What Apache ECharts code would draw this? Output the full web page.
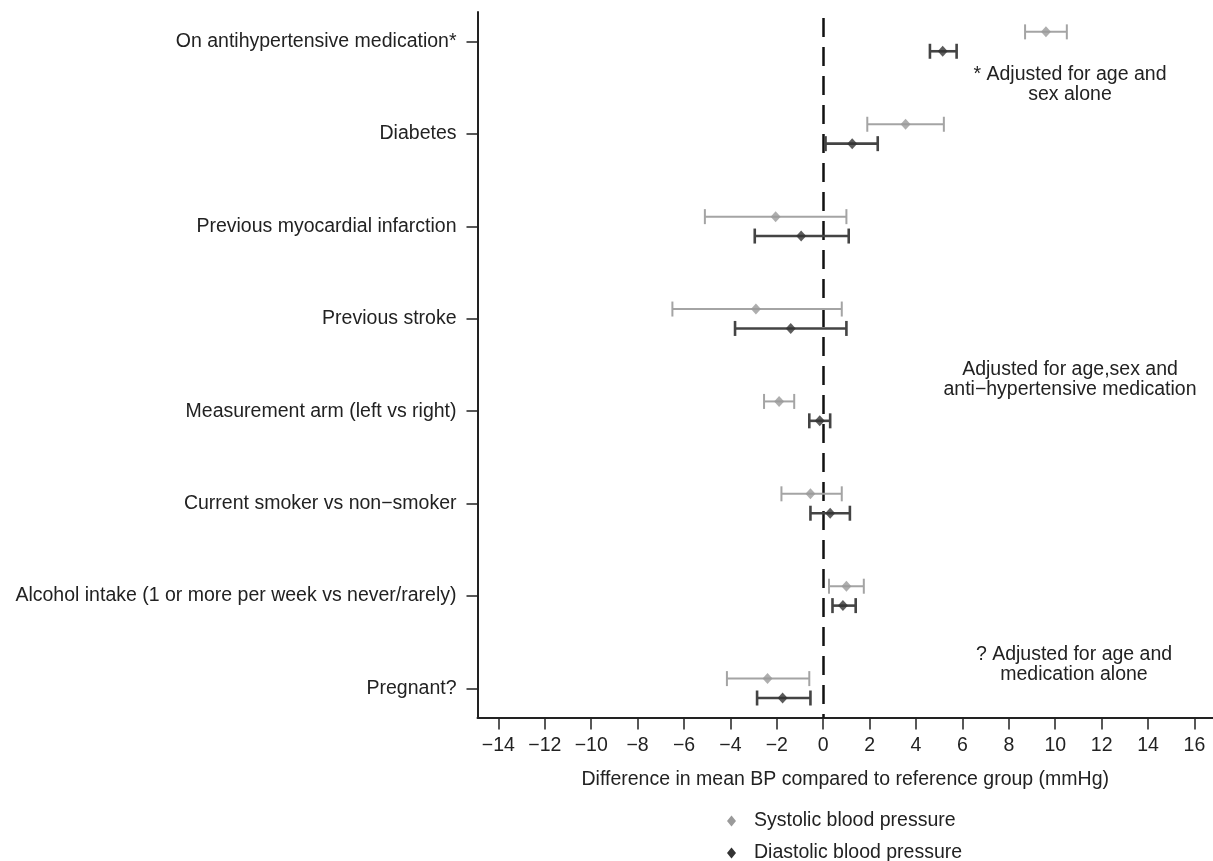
<!DOCTYPE html>
<html>
<head>
<meta charset="utf-8">
<script src="https://cdn.jsdelivr.net/npm/echarts@6/dist/echarts.min.js"></script>
<style>
html,body{margin:0;padding:0;background:#fff;}
#chart{width:1213px;height:861px;}
</style>
</head>
<body>
<div id="chart"></div>
<script>
const categories = [
  'On antihypertensive medication*',
  'Diabetes',
  'Previous myocardial infarction',
  'Previous stroke',
  'Measurement arm (left vs right)',
  'Current smoker vs non\u2212smoker',
  'Alcohol intake (1 or more per week vs never/rarely)',
  'Pregnant?'
];
const sysMean = [9.6, 3.55, -2.05, -2.9, -1.9, -0.55, 1.0, -2.4];
const sysLow  = [8.7, 1.9, -5.1, -6.5, -2.55, -1.8, 0.25, -4.15];
const sysHigh = [10.5, 5.2, 1.0, 0.8, -1.25, 0.8, 1.75, -0.6];
const diaMean = [5.15, 1.25, -0.95, -1.4, -0.15, 0.3, 0.85, -1.75];
const diaLow  = [4.6, 0.1, -2.95, -3.8, -0.6, -0.55, 0.4, -2.85];
const diaHigh = [5.75, 2.35, 1.1, 1.0, 0.3, 1.15, 1.4, -0.55];
const xTicks = [-14, -12, -10, -8, -6, -4, -2, 0, 2, 4, 6, 8, 10, 12, 14, 16];
const seriesNames = ['Systolic blood pressure', 'Diastolic blood pressure'];
const notes = [
  '* Adjusted for age and\nsex alone',
  'Adjusted for age,sex and\nanti\u2212hypertensive medication',
  '? Adjusted for age and\nmedication alone'
];

const FONT = '"Liberation Sans", Arial, Helvetica, sans-serif';
const FS = 19.5;
const TXT = '#222';
const SYS_C = '#9a9a9a', SYS_L = '#a4a4a4';
const DIA_C = '#333333', DIA_L = '#444444';
const OFF = 0.105;
const Y_MIN = -0.32, Y_MAX = 7.316;

const idx = categories.map((_, i) => i);
const sysPts = sysMean.map((v, i) => [v, i - OFF]);
const diaPts = diaMean.map((v, i) => [v, i + OFF]);
const sysBars = idx.map(i => [i - OFF, sysLow[i], sysHigh[i]]);
const diaBars = idx.map(i => [i + OFF, diaLow[i], diaHigh[i]]);

function errRender(color, width) {
  return function (params, api) {
    const lo = api.coord([api.value(1), api.value(0)]);
    const hi = api.coord([api.value(2), api.value(0)]);
    const h = 7.5;
    const st = { stroke: color, lineWidth: width };
    return {
      type: 'group',
      children: [
        { type: 'line', shape: { x1: lo[0], y1: lo[1], x2: hi[0], y2: hi[1] }, style: st },
        { type: 'line', shape: { x1: lo[0], y1: lo[1] - h, x2: lo[0], y2: lo[1] + h }, style: st },
        { type: 'line', shape: { x1: hi[0], y1: hi[1] - h, x2: hi[0], y2: hi[1] + h }, style: st }
      ]
    };
  };
}

const fmtNum = v => (v < 0 ? '\u2212' + Math.abs(v) : String(v));

const chart = echarts.init(document.getElementById('chart'), null, { renderer: 'canvas' });
chart.setOption({
  animation: false,
  textStyle: { fontFamily: FONT },
  grid: { left: 477.5, right: 0, top: 12, bottom: 143.5, containLabel: false },
  xAxis: {
    type: 'value',
    min: -14.9,
    max: 16.8,
    axisLine: { show: true, onZero: false, lineStyle: { color: TXT, width: 2 } },
    axisTick: { show: true, customValues: xTicks, length: 12, lineStyle: { color: TXT, width: 1.5 } },
    axisLabel: { customValues: xTicks, formatter: fmtNum, fontSize: FS, color: TXT, margin: 18, fontFamily: FONT },
    splitLine: { show: false },
    name: 'Difference in mean BP compared to reference group (mmHg)',
    nameLocation: 'middle',
    nameGap: 52,
    nameTextStyle: { fontSize: FS, color: TXT, fontFamily: FONT }
  },
  yAxis: {
    type: 'value',
    inverse: true,
    min: Y_MIN,
    max: Y_MAX,
    axisLine: { show: true, onZero: false, lineStyle: { color: TXT, width: 2 } },
    axisTick: { show: true, customValues: idx, length: 11, lineStyle: { color: TXT, width: 1.5 } },
    axisLabel: { customValues: idx, formatter: v => categories[Math.round(v)] || '', fontSize: FS, color: TXT, margin: 21, fontFamily: FONT },
    splitLine: { show: false }
  },
  legend: {
    orient: 'vertical',
    left: 722,
    top: 806,
    height: 70,
    itemWidth: 9,
    itemHeight: 11,
    itemGap: 12,
    symbolKeepAspect: false,
    textStyle: { fontSize: FS, color: TXT, fontFamily: FONT, lineHeight: 20, padding: [0, 0, 0, 13] },
    data: [
      { name: seriesNames[0], icon: 'diamond', itemStyle: { color: SYS_C } },
      { name: seriesNames[1], icon: 'diamond', itemStyle: { color: DIA_C } }
    ]
  },
  graphic: [
    { type: 'text', x: 1070, y: 85, style: { text: notes[0], align: 'center', verticalAlign: 'middle', font: FS + 'px ' + FONT, lineHeight: 20, fill: TXT } },
    { type: 'text', x: 1070, y: 380, style: { text: notes[1], align: 'center', verticalAlign: 'middle', font: FS + 'px ' + FONT, lineHeight: 20, fill: TXT } },
    { type: 'text', x: 1074, y: 665, style: { text: notes[2], align: 'center', verticalAlign: 'middle', font: FS + 'px ' + FONT, lineHeight: 20, fill: TXT } }
  ],
  series: [
    {
      name: seriesNames[0],
      type: 'custom',
      renderItem: errRender(SYS_L, 2),
      data: sysBars,
      encode: { x: [1, 2], y: 0 },
      z: 3,
      silent: true,
      markLine: {
        silent: true,
        symbol: ['none', 'none'],
        label: { show: false },
        lineStyle: { color: '#111', type: [19, 10], width: 2.5 },
        data: [[{ coord: [0, Y_MIN + 0.065] }, { coord: [0, Y_MAX] }]],
        z: 2
      }
    },
    {
      name: seriesNames[1],
      type: 'custom',
      renderItem: errRender(DIA_L, 2.6),
      data: diaBars,
      encode: { x: [1, 2], y: 0 },
      z: 3,
      silent: true
    },
    {
      name: seriesNames[0],
      type: 'scatter',
      symbol: 'diamond',
      symbolSize: [10, 11],
      itemStyle: { color: SYS_C },
      data: sysPts,
      z: 4
    },
    {
      name: seriesNames[1],
      type: 'scatter',
      symbol: 'diamond',
      symbolSize: [10, 11],
      itemStyle: { color: DIA_C },
      data: diaPts,
      z: 4
    }
  ]
});
</script>
</body>
</html>
